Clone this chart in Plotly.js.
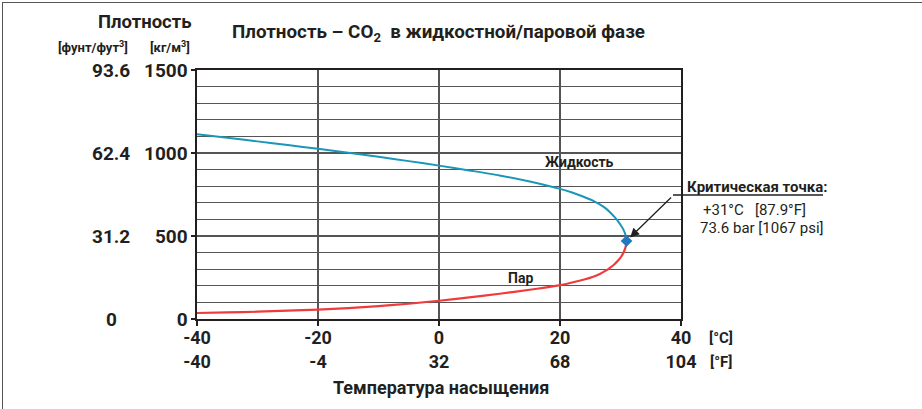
<!DOCTYPE html>
<html>
<head>
<meta charset="utf-8">
<script src="https://cdn.plot.ly/plotly-3.0.1.min.js"></script>
<style>
  html, body { margin: 0; padding: 0; background: #fff; }
  #wrap { position: relative; width: 922px; height: 409px; }
  #chart { width: 922px; height: 409px; }
  #frame { position: absolute; left: 2px; top: 2px; width: 920px; height: 407px;
           border-left: 1px solid #555; border-top: 1px solid #555; pointer-events: none; }
</style>
</head>
<body>
<div id="wrap"><div id="chart"></div><div id="frame"></div></div>
<script>
// ---- data ----
const tempLiquid = [-40, -35, -30, -25, -20, -15, -10, -5, 0, 5, 10, 15, 20, 22, 24, 25.5, 26.5, 27.5, 28.3, 29, 29.6, 30.1, 30.5, 30.8, 30.95, 31];
const densLiquid = [1113, 1092, 1070, 1048, 1025, 1002, 977, 951, 924, 895, 865, 828, 784, 762, 735, 712, 692, 668, 642, 615, 588, 562, 537, 510, 490, 470];
const tempVapor  = [-40, -35, -30, -25, -20, -15, -10, -5, 0, 5, 10, 15, 17.5, 20, 22, 24, 25.5, 26.5, 27.5, 28.3, 29, 29.6, 30.1, 30.5, 30.8, 30.95, 31];
const densVapor  = [36, 40, 44, 50, 57, 66, 78, 92, 110, 130, 152, 176, 189, 204, 220, 238, 255, 270, 290, 310, 330, 352, 375, 400, 428, 450, 470];
const critTemp = [31];
const critDens = [470];

const xTickC = [-40, -20, 0, 20, 40];
const xTickF = ['-40', '-4', '32', '68', '104'];
const yTickKg = [0, 500, 1000, 1500];
const yTickLb = ['0', '31.2', '62.4', '93.6'];

const FONT = 'Roboto, "Liberation Sans", Arial, sans-serif';
const L = 197, R = 241, T = 70, B = 90, W = 922, H = 409;
const pw = W - L - R, ph = H - T - B;
const px = x => (x - L) / pw;
const py = y => (H - B - y) / ph;

const traces = [
  { x: tempLiquid, y: densLiquid, mode: 'lines', line: { color: '#1a96b8', width: 2, shape: 'spline', smoothing: 0.6 }, hoverinfo: 'skip' },
  { x: tempVapor, y: densVapor, mode: 'lines', line: { color: '#ee3b3b', width: 2.2, shape: 'spline', smoothing: 0.6 }, hoverinfo: 'skip' },
  { x: critTemp, y: critDens, mode: 'markers', marker: { symbol: 'diamond', size: 9, color: '#1f78c0' }, hoverinfo: 'skip' }
];

function note(xp, yp, text, size, anchor) {
  return { xref: 'paper', yref: 'paper', x: px(xp), y: py(yp), xanchor: anchor || 'center', yanchor: 'middle',
    text: text, showarrow: false, font: { family: FONT, size: size, color: '#231f20' } };
}

const annotations = [];
// left lb/ft3 column
yTickKg.forEach((v, i) => {
  annotations.push({ xref: 'paper', yref: 'y', x: 0, y: v, xshift: -86, xanchor: 'center', yanchor: 'middle',
    text: '<b>' + yTickLb[i] + '</b>', showarrow: false, font: { family: FONT, size: 19, color: '#231f20' } });
});
annotations.push(
  note(145, 22, '<b>Плотность</b>', 18.5),
  note(93, 47, '<b>[фунт/фут<sup>3</sup>]</b>', 13),
  note(170, 47, '<b>[кг/м<sup>3</sup>]</b>', 13),
  note(230, 33, '<b>Плотность – CO<sub>2</sub>  в жидкостной/паровой фазе</b>', 18.8, 'left'),
  note(721, 338, '<b>[°C]</b>', 15),
  note(721, 362, '<b>[°F]</b>', 15),
  note(441, 387, '<b>Температура насыщения</b>', 18),
  note(685, 187, '<b>Критическая точка:</b>', 15, 'left'),
  note(754, 210, '+31°C   [87.9°F]', 15),
  note(762, 228, '73.6 bar [1067 psi]', 15),
  { xref: 'x', yref: 'y', x: 23.3, y: 944, xanchor: 'center', yanchor: 'middle', text: '<b>Жидкость</b>', showarrow: false,
    font: { family: FONT, size: 14, color: '#231f20' } },
  { xref: 'x', yref: 'y', x: 13.4, y: 249, xanchor: 'center', yanchor: 'middle', text: '<b>Пар</b>', showarrow: false,
    font: { family: FONT, size: 14, color: '#231f20' } },
  { xref: 'x', yref: 'y', x: critTemp[0], y: critDens[0], ax: 46, ay: -45, text: '', showarrow: true,
    arrowhead: 2, arrowsize: 1.4, arrowwidth: 1.3, arrowcolor: '#231f20', standoff: 5 }
);

const layout = {
  width: W, height: H,
  margin: { l: L, r: R, t: T, b: B, pad: 0 },
  paper_bgcolor: '#fff', plot_bgcolor: '#fff',
  showlegend: false,
  font: { family: FONT, color: '#231f20' },
  xaxis: {
    range: [-40, 40], tickvals: xTickC,
    ticktext: xTickC.map((c, i) => '<b>' + c + '</b><br><b>' + xTickF[i] + '</b>'),
    tickfont: { family: FONT, size: 18, color: '#231f20' },
    ticks: 'outside', ticklen: 5, tickcolor: '#231f20', tickwidth: 1.2, ticklabelstandoff: -3,
    showline: true, linecolor: '#231f20', linewidth: 1.6, mirror: true,
    showgrid: true, gridcolor: '#555', gridwidth: 1.3, zeroline: false, automargin: false, fixedrange: true
  },
  yaxis: {
    range: [0, 1500], tickvals: yTickKg, ticktext: yTickKg.map(v => '<b>' + v + '</b>'),
    tickfont: { family: FONT, size: 19, color: '#231f20' },
    ticks: 'outside', ticklen: 4, tickcolor: '#231f20', tickwidth: 1.2,
    showline: true, linecolor: '#231f20', linewidth: 1.6, mirror: true,
    showgrid: true, gridcolor: '#555', gridwidth: 1.3,
    minor: { dtick: 100, showgrid: true, gridcolor: '#555', gridwidth: 1.3, ticks: '' },
    zeroline: false, automargin: false, fixedrange: true
  },
  shapes: [
    { type: 'line', xref: 'paper', yref: 'paper', x0: px(673), x1: px(823), y0: py(195), y1: py(195),
      line: { color: '#231f20', width: 1.3 } }
  ],
  annotations: annotations
};

Plotly.newPlot('chart', traces, layout, { staticPlot: true, displayModeBar: false });
</script>
</body>
</html>
